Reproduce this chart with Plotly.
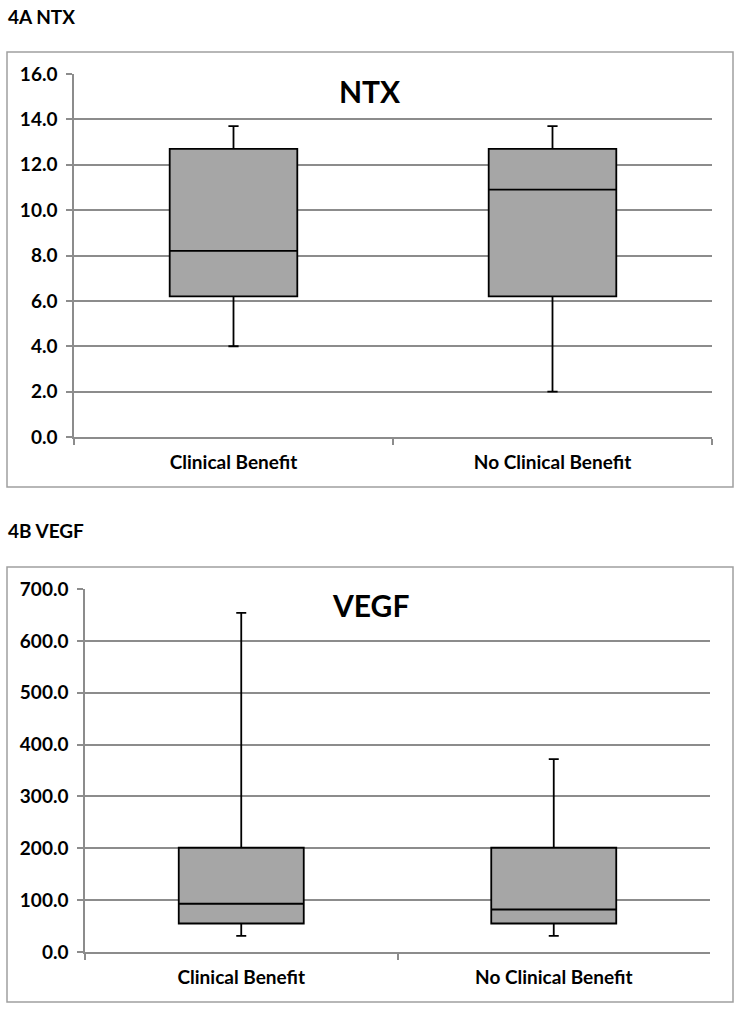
import plotly.graph_objects as go

W, H = 740, 1009

categories = ["Clinical Benefit", "No Clinical Benefit"]

# Panel 4A NTX
ntx_q1 = [6.2, 6.2]
ntx_median = [8.2, 10.9]
ntx_q3 = [12.7, 12.7]
ntx_low = [4.0, 2.0]
ntx_high = [13.7, 13.7]
ntx_ticks = [0, 2, 4, 6, 8, 10, 12, 14, 16]

# Panel 4B VEGF
vegf_q1 = [55.0, 55.0]
vegf_median = [93.0, 82.0]
vegf_q3 = [201.0, 201.0]
vegf_low = [31.0, 31.0]
vegf_high = [654.0, 372.0]
vegf_ticks = [0, 100, 200, 300, 400, 500, 600, 700]

FONT = "Lato"
GRID = "#8c8c8c"
FILL = "#a6a6a6"


def px_x(p):
    return p / W


def px_y(p):
    return 1 - p / H


fig = go.Figure()

fig.add_trace(go.Box(
    x=categories, q1=ntx_q1, median=ntx_median, q3=ntx_q3,
    lowerfence=ntx_low, upperfence=ntx_high,
    boxpoints=False, fillcolor=FILL, line=dict(color="black", width=1.8),
    width=0.4, whiskerwidth=0.08, xaxis="x", yaxis="y", showlegend=False,
    hoverinfo="skip",
))
fig.add_trace(go.Box(
    x=categories, q1=vegf_q1, median=vegf_median, q3=vegf_q3,
    lowerfence=vegf_low, upperfence=vegf_high,
    boxpoints=False, fillcolor=FILL, line=dict(color="black", width=1.8),
    width=0.4, whiskerwidth=0.08, xaxis="x2", yaxis="y2", showlegend=False,
    hoverinfo="skip",
))

xcommon = dict(
    type="category", range=[-0.5, 1.5], showgrid=False, showline=True,
    linecolor=GRID, linewidth=1.5, ticks="outside", tickson="boundaries",
    ticklen=6, tickcolor=GRID, tickwidth=1.5,
    tickfont=dict(family=FONT, size=19, color="black", weight="bold"),
    ticklabelstandoff=7, zeroline=False, fixedrange=True, automargin=False,
)
ycommon = dict(
    showgrid=True, gridcolor=GRID, gridwidth=1.5, showline=True,
    linecolor=GRID, linewidth=1.5, ticks="outside", ticklen=6,
    tickcolor=GRID, tickwidth=1.5, tickformat=".1f",
    tickfont=dict(family=FONT, size=19, color="black", weight="bold"),
    ticklabelstandoff=5, zeroline=False, fixedrange=True, automargin=False,
)

fig.update_layout(
    width=W, height=H, autosize=False,
    margin=dict(l=0, r=0, t=0, b=0, pad=0, autoexpand=False),
    paper_bgcolor="white", plot_bgcolor="white",
    xaxis=dict(domain=[px_x(74), px_x(712)], anchor="y", **xcommon),
    yaxis=dict(domain=[px_y(437), px_y(74)], anchor="x", range=[0, 16],
               tickvals=ntx_ticks, **ycommon),
    xaxis2=dict(domain=[px_x(85), px_x(710)], anchor="y2", **xcommon),
    yaxis2=dict(domain=[px_y(952), px_y(589)], anchor="x2", range=[0, 700],
                tickvals=vegf_ticks, **ycommon),
    shapes=[
        dict(type="rect", xref="paper", yref="paper",
             x0=px_x(7), x1=px_x(733), y0=px_y(487), y1=px_y(52),
             line=dict(color="#a0a0a0", width=1.5), layer="below"),
        dict(type="rect", xref="paper", yref="paper",
             x0=px_x(7), x1=px_x(733), y0=px_y(1002), y1=px_y(567),
             line=dict(color="#a0a0a0", width=1.5), layer="below"),
    ],
    annotations=[
        dict(text="4A NTX", xref="paper", yref="paper", x=px_x(6), y=px_y(16),
             xanchor="left", yanchor="middle", showarrow=False,
             font=dict(family=FONT, size=19, color="black", weight="bold")),
        dict(text="4B VEGF", xref="paper", yref="paper", x=px_x(6), y=px_y(530),
             xanchor="left", yanchor="middle", showarrow=False,
             font=dict(family=FONT, size=19, color="black", weight="bold")),
        dict(text="NTX", xref="paper", yref="paper", x=px_x(370), y=px_y(91),
             xanchor="center", yanchor="middle", showarrow=False,
             font=dict(family=FONT, size=30, color="black", weight="bold")),
        dict(text="VEGF", xref="paper", yref="paper", x=px_x(370), y=px_y(605),
             xanchor="center", yanchor="middle", showarrow=False,
             font=dict(family=FONT, size=30, color="black", weight="bold")),
    ],
)

fig.write_html(
    "out.html",
    config={"displayModeBar": False},
    post_script="document.body.style.margin='0';document.body.style.overflow='hidden';",
)
